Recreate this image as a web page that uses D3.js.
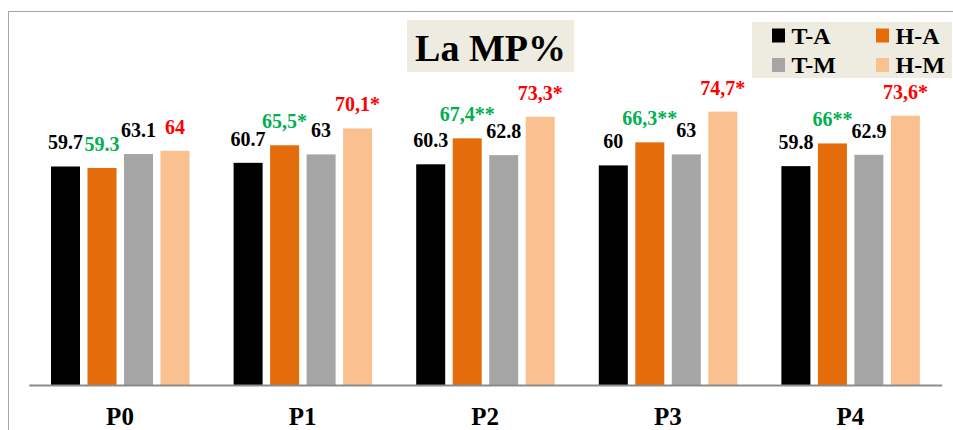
<!DOCTYPE html>
<html>
<head>
<meta charset="utf-8">
<script src="https://cdn.jsdelivr.net/npm/d3@7"></script>
<style>
  body { margin: 0; background: #fff; }
  svg text { font-family: 'Liberation Serif', Tinos, 'DejaVu Serif', serif !important; font-weight: bold; }
</style>
</head>
<body>
<div id="chart-container"></div>
<script>
const categories = ["P0", "P1", "P2", "P3", "P4"];
const seriesKeys = ["T-A", "H-A", "T-M", "H-M"];
const tA = [59.7, 60.7, 60.3, 60, 59.8];
const hA = [59.3, 65.5, 67.4, 66.3, 66];
const tM = [63.1, 63, 62.8, 63, 62.9];
const hM = [64, 70.1, 73.3, 74.7, 73.6];
const tALabels = ["59.7", "60.7", "60.3", "60", "59.8"];
const hALabels = ["59.3", "65,5*", "67,4**", "66,3**", "66**"];
const tMLabels = ["63.1", "63", "62.8", "63", "62.9"];
const hMLabels = ["64", "70,1*", "73,3*", "74,7*", "73,6*"];

const seriesValues = { "T-A": tA, "H-A": hA, "T-M": tM, "H-M": hM };
const seriesLabels = { "T-A": tALabels, "H-A": hALabels, "T-M": tMLabels, "H-M": hMLabels };
const barColor = { "T-A": "#000000", "H-A": "#E46C0A", "T-M": "#A5A5A5", "H-M": "#FAC090" };
const labelColor = { "T-A": "#000000", "H-A": "#00B050", "T-M": "#000000", "H-M": "#FF0000" };

const serif = "'Liberation Serif', Tinos, 'DejaVu Serif', serif";

const svgWidth = 953;
const svgHeight = 430;

const svg = d3.select("#chart-container")
    .append("svg")
    .attr("width", svgWidth)
    .attr("height", svgHeight);

// outer frame (runs off the right/bottom edges)
svg.append("rect")
    .attr("x", 8.5)
    .attr("y", 11.5)
    .attr("width", 1000)
    .attr("height", 1000)
    .attr("fill", "none")
    .attr("stroke", "#a6a6a6")
    .attr("stroke-width", 1);

const scaleX = d3.scaleBand()
    .domain(categories)
    .range([28.7, 941.7])
    .padding(0);

const scaleX1 = d3.scaleBand()
    .domain(seriesKeys)
    .range([22.3, 160.8])
    .paddingInner(0.205)
    .paddingOuter(0);

const scaleY = d3.scaleLinear()
    .domain([0, 80])
    .range([385, 92.2]);

const rows = [];
categories.forEach(function(cat, i) {
    seriesKeys.forEach(function(k) {
        rows.push({ cat: cat, key: k, value: seriesValues[k][i], label: seriesLabels[k][i] });
    });
});

svg.append("g")
    .selectAll("rect")
    .data(rows)
    .join("rect")
    .attr("x", d => scaleX(d.cat) + scaleX1(d.key))
    .attr("y", d => scaleY(d.value))
    .attr("width", scaleX1.bandwidth())
    .attr("height", d => scaleY(0) - scaleY(d.value))
    .attr("fill", d => barColor[d.key]);

svg.append("g")
    .selectAll("text")
    .data(rows)
    .join("text")
    .attr("x", d => scaleX(d.cat) + scaleX1(d.key) + scaleX1.bandwidth() / 2)
    .attr("y", d => scaleY(d.value) - 17)
    .attr("text-anchor", "middle")
    .attr("font-family", serif)
    .attr("font-size", "20px")
    .attr("fill", d => labelColor[d.key])
    .text(d => d.label);

const xAxis = svg.append("g")
    .attr("transform", "translate(0,385)")
    .call(d3.axisBottom(scaleX).tickSize(0).tickSizeOuter(0))
    .attr("font-family", serif);

xAxis.select(".domain")
    .attr("stroke", "#8c8c8c")
    .attr("stroke-width", 2);

xAxis.selectAll("text")
    .attr("y", 40)
    .attr("dy", 0)
    .attr("font-size", "25px")
    .attr("font-family", serif)
    .attr("font-weight", "bold")
    .attr("fill", "#000");

// title box
svg.append("rect")
    .attr("x", 407)
    .attr("y", 20)
    .attr("width", 167)
    .attr("height", 52)
    .attr("fill", "#EEECE1");

svg.append("text")
    .attr("x", 490.5)
    .attr("y", 61)
    .attr("text-anchor", "middle")
    .attr("font-family", serif)
    .attr("font-size", "38px")
    .attr("fill", "#000")
    .text("La MP%");

// legend
svg.append("rect")
    .attr("x", 752)
    .attr("y", 22)
    .attr("width", 200)
    .attr("height", 56)
    .attr("fill", "#EEECE1");

const legendPos = { "T-A": [772, 28.5], "H-A": [876, 28.5], "T-M": [772, 58], "H-M": [876, 58] };

const legendItem = svg.append("g")
    .selectAll("g")
    .data(seriesKeys)
    .join("g")
    .attr("transform", d => `translate(${legendPos[d][0]},${legendPos[d][1]})`);

legendItem.append("rect")
    .attr("width", 13)
    .attr("height", 14)
    .attr("fill", d => barColor[d]);

legendItem.append("text")
    .attr("x", 19.5)
    .attr("y", 15)
    .attr("font-family", serif)
    .attr("font-size", "24px")
    .attr("fill", "#000")
    .text(d => d);
</script>
</body>
</html>
